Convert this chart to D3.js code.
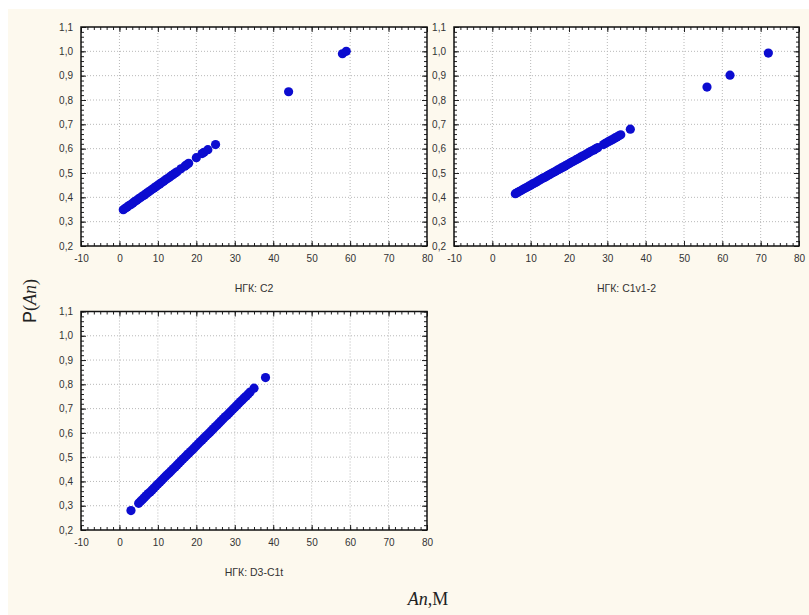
<!DOCTYPE html>
<meta charset="utf-8">
<style>
    body { margin: 0; background: #fff; }
    .tick text { font: 10px "Liberation Sans", Arial, sans-serif; fill: #333; }
    .grid line { stroke: #b8b8b8; stroke-dasharray: 1,2; }
    .sub { font: 10.5px "Liberation Sans", Arial, sans-serif; fill: #333; }
</style>
<body>
<script src="https://cdn.jsdelivr.net/npm/d3@7"></script>
<script>

    // НГК: C2
    var c2X = [1, 1.5, 2, 2.5, 3, 3.5, 4, 4.5, 5, 5.5, 6, 6.5, 7, 7.5, 8, 8.5, 9, 9.5, 10, 10.5, 11, 11.5, 12, 12.5, 13, 13.5, 14, 14.5, 15, 16, 17, 17.5, 18, 20, 21.5, 22, 23, 25, 44, 58, 59];
    var c2Y = [0.349, 0.355, 0.360, 0.366, 0.371, 0.377, 0.383, 0.388, 0.394, 0.399, 0.405, 0.410, 0.416, 0.422, 0.427, 0.433, 0.438, 0.444, 0.450, 0.455, 0.461, 0.466, 0.472, 0.477, 0.483, 0.489, 0.494, 0.500, 0.505, 0.517, 0.528, 0.534, 0.540, 0.563, 0.580, 0.585, 0.596, 0.617, 0.834, 0.990, 1.000];

    // НГК: C1v1-2
    var c1X = [6, 6.5, 7, 7.5, 8, 8.5, 9, 9.5, 10, 10.5, 11, 11.5, 12, 12.5, 13, 13.5, 14, 14.5, 15, 15.5, 16, 16.5, 17, 17.5, 18, 18.5, 19, 19.5, 20, 20.5, 21, 21.5, 22, 22.5, 23, 23.5, 24, 24.5, 25, 25.5, 26, 26.5, 27, 27.5, 29, 29.5, 30, 30.5, 31, 31.5, 32, 32.5, 33, 33.5, 36, 56, 62, 72];
    var c1Y = [0.415, 0.419, 0.424, 0.428, 0.433, 0.437, 0.441, 0.446, 0.450, 0.455, 0.459, 0.463, 0.468, 0.472, 0.477, 0.481, 0.485, 0.490, 0.494, 0.499, 0.503, 0.507, 0.512, 0.516, 0.521, 0.525, 0.529, 0.534, 0.538, 0.543, 0.547, 0.551, 0.556, 0.560, 0.565, 0.569, 0.573, 0.578, 0.582, 0.587, 0.591, 0.595, 0.600, 0.604, 0.617, 0.622, 0.626, 0.631, 0.635, 0.639, 0.644, 0.648, 0.653, 0.657, 0.680, 0.853, 0.902, 0.993];

    // НГК: D3-C1t
    var d3X = [3, 5, 5.5, 6, 6.5, 7, 7.5, 8, 8.5, 9, 9.5, 10, 10.5, 11, 11.5, 12, 12.5, 13, 13.5, 14, 14.5, 15, 15.5, 16, 16.5, 17, 17.5, 18, 18.5, 19, 19.5, 20, 20.5, 21, 21.5, 22, 22.5, 23, 23.5, 24, 24.5, 25, 25.5, 26, 26.5, 27, 27.5, 28, 28.5, 29, 29.5, 30, 30.5, 31, 31.5, 32, 32.5, 33, 33.5, 34, 35, 38];
    var d3Y = [0.280, 0.310, 0.318, 0.326, 0.334, 0.342, 0.350, 0.357, 0.365, 0.373, 0.381, 0.389, 0.397, 0.405, 0.413, 0.421, 0.429, 0.436, 0.444, 0.452, 0.460, 0.468, 0.476, 0.484, 0.492, 0.500, 0.508, 0.515, 0.523, 0.531, 0.539, 0.547, 0.555, 0.563, 0.571, 0.579, 0.587, 0.594, 0.602, 0.610, 0.618, 0.626, 0.634, 0.642, 0.650, 0.658, 0.666, 0.673, 0.681, 0.689, 0.697, 0.705, 0.713, 0.721, 0.729, 0.737, 0.745, 0.752, 0.760, 0.768, 0.784, 0.828];

    var xTicks = [-10, 0, 10, 20, 30, 40, 50, 60, 70, 80];
    var yTicks = [0.2, 0.3, 0.4, 0.5, 0.6, 0.7, 0.8, 0.9, 1.0, 1.1];
    var titles = ["НГК: C2", "НГК: C1v1-2", "НГК: D3-C1t"];

    var panels = [
        { left: 81, top: 27, width: 346, height: 219, xs: c2X, ys: c2Y, title: titles[0] },
        { left: 454, top: 27, width: 345, height: 219, xs: c1X, ys: c1Y, title: titles[1] },
        { left: 81, top: 311.5, width: 346, height: 218.5, xs: d3X, ys: d3Y, title: titles[2] }
    ];

    var svg = d3.select("body").append("svg")
        .attr("width", 809)
        .attr("height", 615);

    svg.append("rect")
        .attr("x", 8).attr("y", 9)
        .attr("width", 801).attr("height", 606)
        .attr("fill", "#fdf9ee");

    var fmtY = function (d) { return d.toFixed(1).replace(".", ","); };
    var fmtX = function (d) { return String(d); };

    panels.forEach(function (p) {
        var x = d3.scaleLinear().domain([-10, 80]).range([0, p.width]);
        var y = d3.scaleLinear().domain([0.2, 1.1]).range([p.height, 0]);
        var xMinor = d3.range(-10, 80.001, 10 / 6);
        var yMinor = d3.range(0.2, 1.1001, 0.02);

        var g = svg.append("g")
            .attr("transform", "translate(" + p.left + "," + p.top + ")");

        g.append("rect")
            .attr("width", p.width).attr("height", p.height)
            .attr("fill", "#fff");

        // grid
        g.append("g").attr("class", "grid")
            .selectAll("line").data(xTicks.slice(1, -1)).enter().append("line")
            .attr("x1", x).attr("x2", x)
            .attr("y1", 0).attr("y2", p.height);
        g.append("g").attr("class", "grid")
            .selectAll("line").data(yTicks.slice(1, -1)).enter().append("line")
            .attr("y1", y).attr("y2", y)
            .attr("x1", 0).attr("x2", p.width);

        // points
        g.append("g")
            .selectAll("circle")
            .data(p.xs.map(function (d, i) { return { x: d, y: p.ys[i] }; }))
            .enter().append("circle")
            .attr("r", 4.6)
            .attr("cx", function (d) { return x(d.x); })
            .attr("cy", function (d) { return y(d.y); })
            .attr("fill", "#0c0cd0");

        // ticks pointing inside on all four sides (minor, then major)
        [[xMinor, yMinor, 3], [xTicks, yTicks, 5]].forEach(function (t) {
            var sides = [
                [d3.axisBottom(x).tickValues(t[0]), 0, 0],
                [d3.axisTop(x).tickValues(t[0]), 0, p.height],
                [d3.axisRight(y).tickValues(t[1]), 0, 0],
                [d3.axisLeft(y).tickValues(t[1]), p.width, 0]
            ];
            sides.forEach(function (s) {
                g.append("g")
                    .attr("transform", "translate(" + s[1] + "," + s[2] + ")")
                    .call(s[0].tickSize(t[2]).tickFormat(""))
                    .call(function (a) { a.select(".domain").remove(); })
                    .selectAll("line").attr("stroke", "#222");
            });
        });

        // labels
        g.append("g")
            .attr("transform", "translate(0," + p.height + ")")
            .call(d3.axisBottom(x).tickValues(xTicks).tickSize(0).tickPadding(9).tickFormat(fmtX))
            .call(function (a) { a.select(".domain").remove(); });
        g.append("g")
            .call(d3.axisLeft(y).tickValues(yTicks).tickSize(0).tickPadding(8).tickFormat(fmtY))
            .call(function (a) { a.select(".domain").remove(); });

        // frame
        g.append("rect")
            .attr("width", p.width).attr("height", p.height)
            .attr("fill", "none")
            .attr("stroke", "#111")
            .attr("stroke-width", 1.5);

        g.append("text")
            .attr("class", "sub")
            .attr("x", p.width / 2)
            .attr("y", p.height + 46)
            .attr("text-anchor", "middle")
            .text(p.title);
    });

    // axis titles
    var serif = "'Liberation Serif', 'Times New Roman', serif";
    var sans = "'Liberation Sans', Arial, sans-serif";
    var yl = svg.append("text")
        .attr("transform", "translate(36,301) rotate(-90)")
        .attr("text-anchor", "middle")
        .style("font-size", "18px")
        .style("font-family", serif)
        .style("fill", "#222");
    yl.append("tspan").style("font-family", sans).text("P");
    yl.append("tspan").text("(");
    yl.append("tspan").style("font-style", "italic").text("An");
    yl.append("tspan").text(")");

    var xl = svg.append("text")
        .attr("x", 428)
        .attr("y", 605)
        .attr("text-anchor", "middle")
        .style("font-size", "18px")
        .style("font-family", serif)
        .style("fill", "#222");
    xl.append("tspan").style("font-style", "italic").text("An");
    xl.append("tspan").text(",М");

</script>
</body>
